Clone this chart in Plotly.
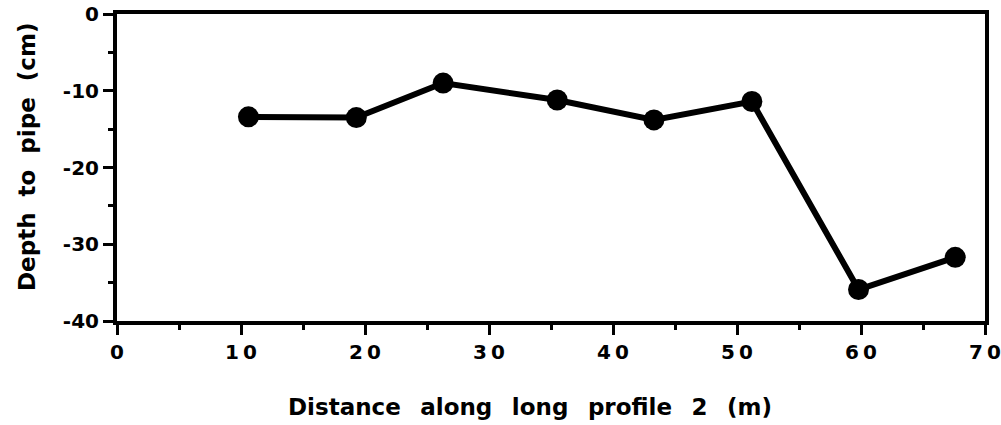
import plotly.graph_objects as go

# Distance along the profile (m) and depth to the pipe (cm)
distance_m = [10.6, 19.3, 26.3, 35.5, 43.3, 51.2, 59.8, 67.6]
depth_cm = [-13.4, -13.5, -9.0, -11.2, -13.8, -11.4, -35.9, -31.7]

x_tick_vals = [0, 10, 20, 30, 40, 50, 60, 70]
x_tick_text = ["0", "1\u20090", "2\u20090", "3\u20090", "4\u20090", "5\u20090", "6\u20090", "7\u20090"]
y_tick_vals = [0, -10, -20, -30, -40]
y_tick_text = ["0", "-10", "-20", "-30", "-40"]

x_title = "Distance\u2002 along\u2002 long\u2002 profile\u2002 2\u2002 (m)"
y_title = "Depth  to  pipe  (cm)"

FONT = "DejaVu Sans, Verdana, sans-serif"
W, H = 1001, 425
M = dict(l=117, r=16, t=14, b=104)
plot_w = W - M["l"] - M["r"]
plot_h = H - M["t"] - M["b"]

fig = go.Figure(
    go.Scatter(
        x=distance_m,
        y=depth_cm,
        mode="lines+markers",
        line=dict(color="black", width=6),
        marker=dict(color="black", size=21),
        showlegend=False,
    )
)

axis_common = dict(
    showline=True,
    linecolor="black",
    linewidth=4,
    mirror=True,
    showgrid=False,
    zeroline=False,
    automargin=False,
    ticks="outside",
    tickcolor="black",
    tickwidth=3,
    ticklen=10,
)

fig.update_xaxes(
    **axis_common,
    range=[0, 70],
    tickvals=x_tick_vals,
    ticktext=x_tick_text,
    tickfont=dict(family=FONT, size=20, color="black", weight="bold"),
    minor=dict(dtick=5, tick0=0, ticks="outside", ticklen=5, tickwidth=3, tickcolor="black"),
)

fig.update_yaxes(
    **axis_common,
    range=[-40, 0],
    tickvals=y_tick_vals,
    ticktext=y_tick_text,
    tickfont=dict(family=FONT, size=20, color="black", weight="bold"),
    minor=dict(dtick=5, tick0=0, ticks="outside", ticklen=5, tickwidth=3, tickcolor="black"),
)

title_font = dict(family=FONT, size=23, color="black", weight="bold")

# Axis titles placed as paper annotations (pixel positions converted to paper units)
fig.add_annotation(
    text=x_title,
    xref="paper", yref="paper",
    x=(530 - M["l"]) / plot_w,
    y=-(407 - (H - M["b"])) / plot_h,
    xanchor="center", yanchor="middle",
    showarrow=False,
    font=title_font,
)
fig.add_annotation(
    text=y_title,
    xref="paper", yref="paper",
    x=(27 - M["l"]) / plot_w,
    y=((H - M["b"]) - 157) / plot_h,
    xanchor="center", yanchor="middle",
    textangle=-90,
    showarrow=False,
    font=title_font,
)

fig.update_layout(
    width=W,
    height=H,
    margin=M,
    paper_bgcolor="white",
    plot_bgcolor="white",
)

fig.write_html("out.html")
